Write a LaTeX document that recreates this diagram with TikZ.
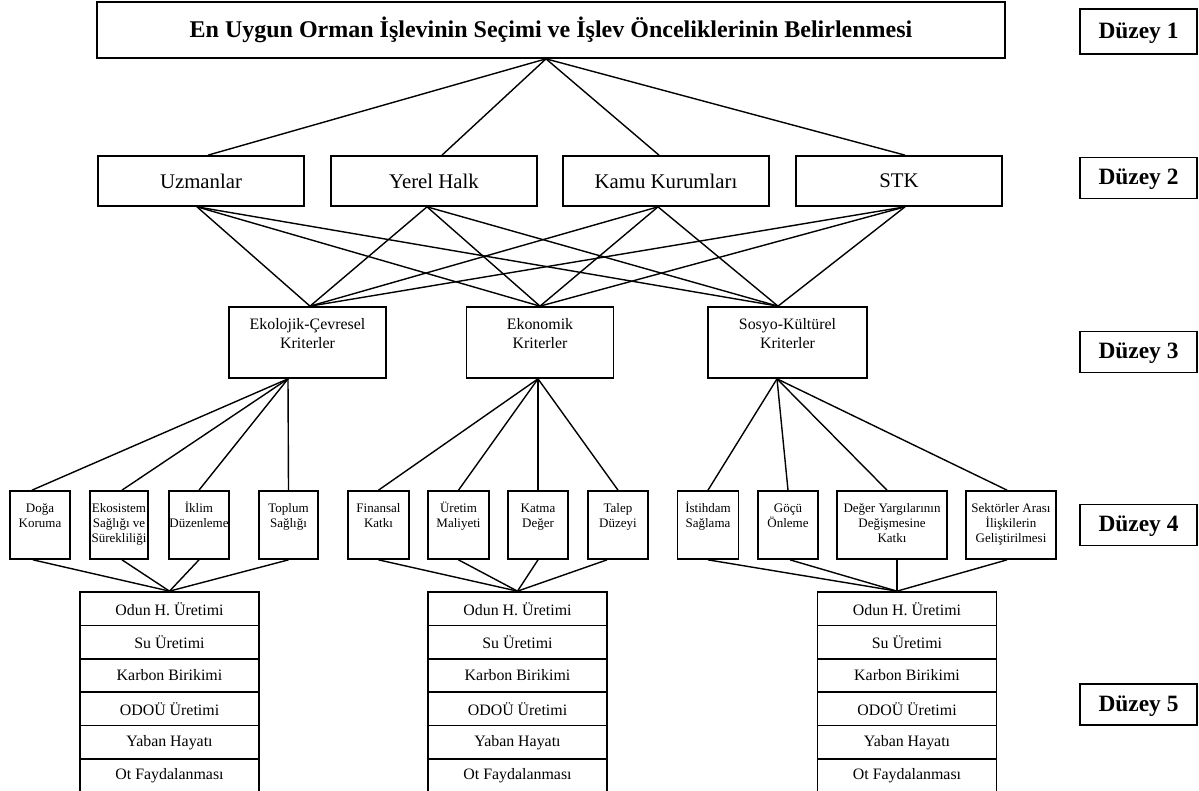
\documentclass[tikz,border=0pt]{standalone}
\usepackage{fontspec}
\setmainfont{Liberation Serif}
\newcommand\cellbox[4]{\parbox[c][#2][t]{#1}{\centering\rule{0pt}{#3}#4}}
\tikzset{
  bx/.style={draw, line width=1.7pt, inner sep=0pt, align=center},
  ln/.style={line width=1.4pt},
  dz/.style={bx, minimum width=117pt, minimum height=41pt, text height=15.8pt, text depth=2pt, font=\fontsize{23.4}{28}\selectfont\bfseries},
  lvtwo/.style={bx, minimum width=206pt, minimum height=50pt, font=\fontsize{20.8}{25}\selectfont},
  lvthree/.style={bx, font=\fontsize{15.9}{19}\selectfont},
  lvfour/.style={bx, font=\fontsize{13}{15}\selectfont},
  lvfive/.style={bx, minimum width=179pt, minimum height=33.4pt, font=\fontsize{15.9}{19}\selectfont},
}
\begin{document}
\begin{tikzpicture}[x=1pt,y=-1pt]
\useasboundingbox (0,0) rectangle (1199,791);

% Level 1
\node[bx, minimum width=908pt, minimum height=56pt, font=\fontsize{24}{28}\selectfont\bfseries] (top) at (551,30)
  {En Uygun Orman İşlevinin Seçimi ve İşlev Önceliklerinin Belirlenmesi};

% Düzey labels
\node[dz, minimum height=45pt] (d1) at (1138.5,31.5) {Düzey 1};
\node[dz] (d2) at (1138.5,178) {Düzey 2};
\node[dz] (d3) at (1138.5,352) {Düzey 3};
\node[dz] (d4) at (1138.5,525) {Düzey 4};
\node[dz] (d5) at (1138.5,704.5) {Düzey 5};

% Level 2
\node[lvtwo] (uz) at (201,181) {Uzmanlar};
\node[lvtwo] (yh) at (434,181) {Yerel Halk};
\node[lvtwo] (kk) at (666,181) {Kamu Kurumları};
\node[lvtwo] (stk) at (899,181) {STK};

% Level 3
\node[lvthree] (eco) at (307.5,342.5) {\cellbox{157pt}{71pt}{22.5pt}{Ekolojik-Çevresel\\Kriterler}};
\node[lvthree] (ekn) at (540,342.5) {\cellbox{147pt}{71pt}{22.5pt}{Ekonomik\\Kriterler}};
\node[lvthree] (sos) at (787.5,342.5) {\cellbox{159pt}{71pt}{22.5pt}{Sosyo-Kültürel\\Kriterler}};

% Level 4
\node[lvfour] (dk) at (40,525) {\cellbox{60pt}{68pt}{21pt}{Doğa\\Koruma}};
\node[lvfour] (es) at (119,525) {\cellbox{58pt}{68pt}{21pt}{Ekosistem\\Sağlığı ve\\Sürekliliği}};
\node[lvfour] (id) at (199,525) {\cellbox{60pt}{68pt}{21pt}{İklim\\Düzenleme}};
\node[lvfour] (ts) at (288.5,525) {\cellbox{59pt}{68pt}{21pt}{Toplum\\Sağlığı}};
\node[lvfour] (fk) at (378.5,525) {\cellbox{61pt}{68pt}{21pt}{Finansal\\Katkı}};
\node[lvfour] (um) at (458.5,525) {\cellbox{61pt}{68pt}{21pt}{Üretim\\Maliyeti}};
\node[lvfour] (kd) at (538,525) {\cellbox{60pt}{68pt}{21pt}{Katma\\Değer}};
\node[lvfour] (td) at (618,525) {\cellbox{60pt}{68pt}{21pt}{Talep\\Düzeyi}};
\node[lvfour] (is) at (708,525) {\cellbox{61pt}{68pt}{21pt}{İstihdam\\Sağlama}};
\node[lvfour] (go) at (788,525) {\cellbox{60pt}{68pt}{21pt}{Göçü\\Önleme}};
\node[lvfour] (dy) at (892,525) {\cellbox{110pt}{68pt}{21pt}{Değer Yargılarının\\Değişmesine\\Katkı}};
\node[lvfour] (sa) at (1011,525) {\cellbox{90pt}{68pt}{21pt}{Sektörler Arası\\İlişkilerin\\Geliştirilmesi}};

% Level 5 stacks
\foreach \g/\x in {a/169.5, b/517.5, c/907}{
  \node[lvfive] (\g1) at (\x,608.7) {Odun H. Üretimi};
  \node[lvfive] (\g2) at (\x,642.1) {Su Üretimi};
  \node[lvfive] (\g3) at (\x,675.5) {Karbon Birikimi};
  \node[lvfive] (\g4) at (\x,708.9) {ODOÜ Üretimi};
  \node[lvfive] (\g5) at (\x,742.3) {Yaban Hayatı};
  \node[lvfive] (\g6) at (\x,775.7) {Ot Faydalanması};
}

% Anchor points
\coordinate (topB) at ([xshift=-5pt]top.south);
\coordinate (uzT) at ([xshift=7pt]uz.north);
\coordinate (yhT) at ([xshift=8pt]yh.north);
\coordinate (kkT) at ([xshift=-7pt]kk.north);
\coordinate (stkT) at ([xshift=6pt]stk.north);
\coordinate (uzB) at ([xshift=-4pt]uz.south);
\coordinate (yhB) at ([xshift=-7pt]yh.south);
\coordinate (kkB) at ([xshift=-8pt]kk.south);
\coordinate (stkB) at ([xshift=6pt]stk.south);
\coordinate (ecoT) at ([xshift=2.5pt]eco.north);
\coordinate (eknT) at (ekn.north);
\coordinate (sosT) at ([xshift=-9.5pt]sos.north);
\coordinate (ecoB) at ([xshift=-19.5pt]eco.south);
\coordinate (eknB) at ([xshift=-2pt]ekn.south);
\coordinate (sosB) at ([xshift=-10.5pt]sos.south);
\coordinate (cT) at ([xshift=-10pt]c1.north);

% Level 1 -> Level 2
\foreach \n in {uzT,yhT,kkT,stkT} \draw[ln] (topB) -- (\n);

% Level 2 -> Level 3
\foreach \a in {uzB,yhB,kkB,stkB}
  \foreach \b in {ecoT,eknT,sosT}
    \draw[ln] (\a) -- (\b);

% Level 3 -> Level 4
\draw[ln] (ecoB) -- ([xshift=-8pt]dk.north);
\draw[ln] (ecoB) -- ([xshift=3pt]es.north);
\draw[ln] (ecoB) -- (id.north);
\draw[ln] (ecoB) -- (ts.north);
\draw[ln] (eknB) -- (fk.north);
\draw[ln] (eknB) -- (um.north);
\draw[ln] (eknB) -- (kd.north);
\draw[ln] (eknB) -- (td.north);
\draw[ln] (sosB) -- (is.north);
\draw[ln] (sosB) -- (go.north);
\draw[ln] (sosB) -- ([xshift=-5pt]dy.north);
\draw[ln] (sosB) -- ([xshift=-4pt]sa.north);

% Level 4 -> Level 5
\draw[ln] ([xshift=-7pt]dk.south) -- (a1.north);
\draw[ln] ([xshift=3pt]es.south) -- (a1.north);
\draw[ln] (id.south) -- (a1.north);
\draw[ln] (ts.south) -- (a1.north);
\draw[ln] (fk.south) -- (b1.north);
\draw[ln] (um.south) -- (b1.north);
\draw[ln] (kd.south) -- (b1.north);
\draw[ln] ([xshift=-11pt]td.south) -- (b1.north);
\draw[ln] (is.south) -- (cT);
\draw[ln] ([xshift=2pt]go.south) -- (cT);
\draw[ln] ([xshift=5pt]dy.south) -- (cT);
\draw[ln] ([xshift=-4pt]sa.south) -- (cT);
\end{tikzpicture}
\end{document}
